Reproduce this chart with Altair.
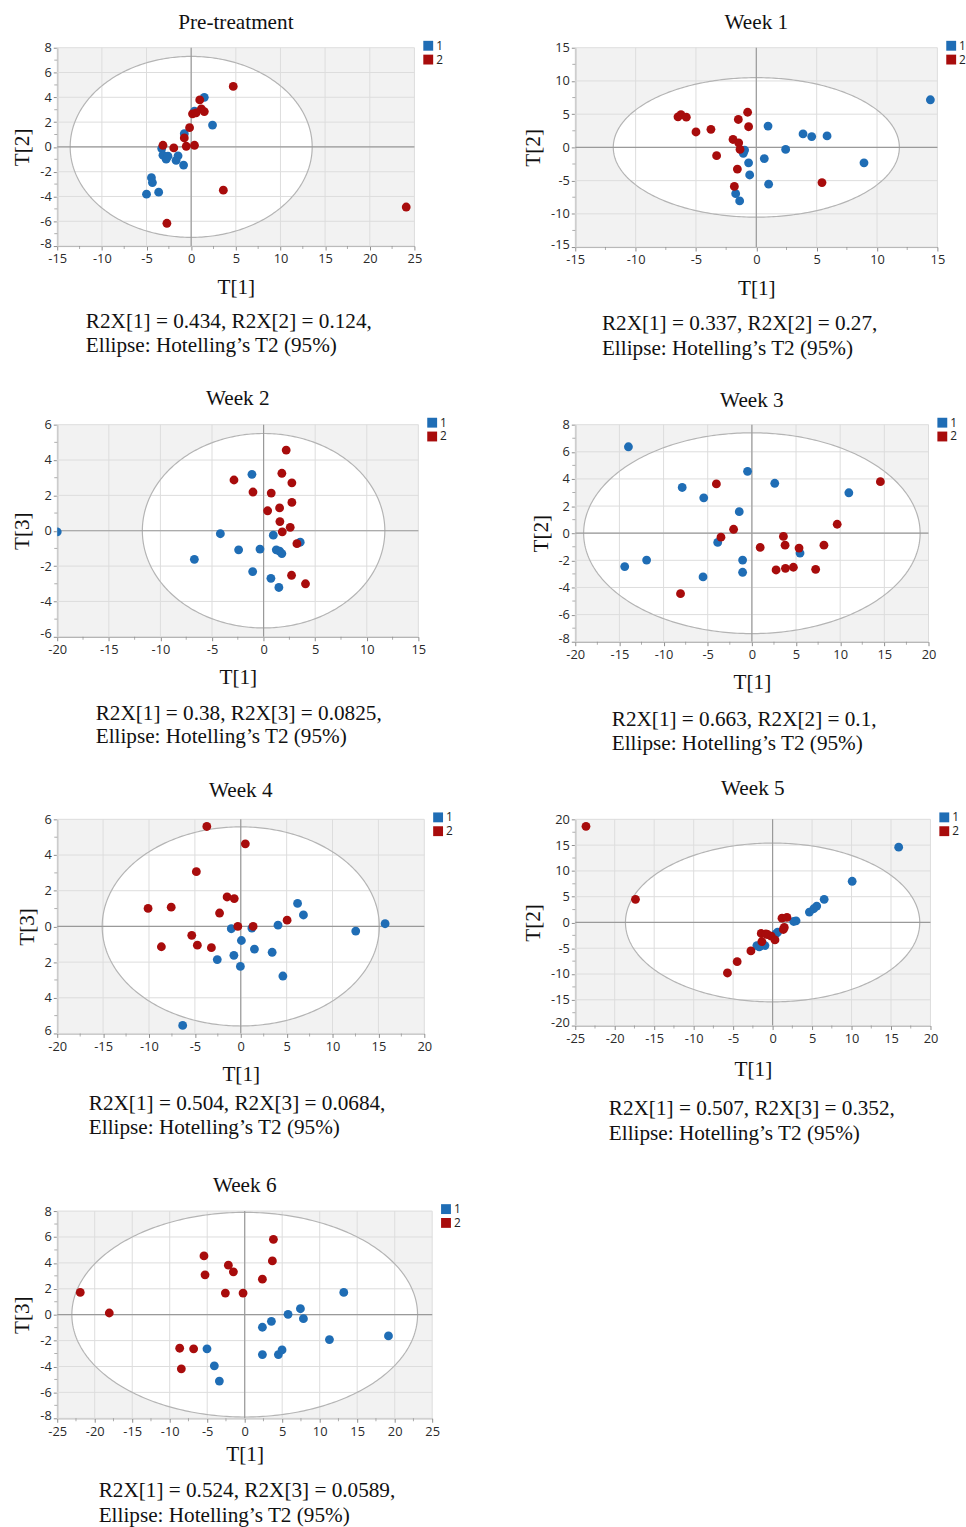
import altair as alt
import numpy as np
import pandas as pd

BLUE = "#1f6db5"
RED = "#a80c0c"
SERIF = "Liberation Serif"
SANS = "Open Sans"

titles = ["Pre-treatment", "Week 1", "Week 2", "Week 3", "Week 4", "Week 5", "Week 6"]
y_titles = ["T[2]", "T[2]", "T[3]", "T[2]", "T[3]", "T[2]", "T[3]"]
captions = [
    "R2X[1] = 0.434, R2X[2] = 0.124,",
    "R2X[1] = 0.337, R2X[2] = 0.27,",
    "R2X[1] = 0.38, R2X[3] = 0.0825,",
    "R2X[1] = 0.663, R2X[2] = 0.1,",
    "R2X[1] = 0.504, R2X[3] = 0.0684,",
    "R2X[1] = 0.507, R2X[3] = 0.352,",
    "R2X[1] = 0.524, R2X[3] = 0.0589,",
]
caption_2 = "Ellipse: Hotelling\u2019s T2 (95%)"
x_domains = [[-15, 25], [-15, 15], [-20, 15], [-20, 20], [-20, 20], [-25, 20], [-25, 25]]
y_domains = [[-8, 8], [-15, 15], [-6, 6], [-8, 8], [-6, 6], [-20, 20], [-8, 8]]
x_steps = [5, 5, 5, 5, 5, 5, 5]
y_steps = [2, 5, 2, 2, 2, 5, 2]
ellipse_a = [13.55, 11.85, 11.75, 19.05, 15.1, 18.64, 23.05]
ellipse_b = [7.3, 10.5, 5.5, 7.4, 5.58, 15.4, 7.9]

# Pre-treatment
pre_x1 = [1.47, 0.37, 2.39, -0.77, -3.3, -3.16, -2.8, -2.6, -1.47, -1.69, -0.85, -4.45, -4.34, -3.64, -5.0]
pre_y1 = [4.0, 2.88, 1.76, 1.07, -0.13, -0.67, -0.99, -0.75, -0.72, -1.09, -1.47, -2.48, -2.88, -3.65, -3.81]
pre_x2 = [4.71, 0.96, 1.14, 1.47, 0.15, 0.55, -0.18, -0.77, -3.16, -1.95, -0.55, 0.37, 3.6, -2.72, 24.08]
pre_y2 = [4.88, 3.79, 3.07, 2.85, 2.67, 2.75, 1.55, 0.72, 0.13, -0.08, 0.05, 0.13, -3.49, -6.16, -4.85]
# Week 1
w1_x1 = [14.42, 0.97, 3.87, 4.59, 5.86, 2.43, -0.97, -1.08, -0.64, 0.66, 8.92, -0.55, 1.02, -1.71, -1.38]
w1_y1 = [7.17, 3.21, 2.03, 1.63, 1.73, -0.3, -0.4, -0.89, -2.32, -1.68, -2.32, -4.15, -5.54, -6.97, -8.06]
w1_x2 = [-6.49, -6.24, -5.8, -5.0, -3.76, -0.72, -1.49, -0.64, -1.93, -1.46, -1.35, -3.29, -1.57, -1.82, 5.44]
w1_y2 = [4.6, 4.94, 4.55, 2.32, 2.72, 5.29, 4.2, 3.11, 1.19, 0.69, -0.3, -1.24, -3.26, -5.88, -5.29]
# Week 2
w2_x1 = [-20.0, -1.13, -4.19, 0.94, -6.71, -2.42, -0.35, 1.23, 1.55, 1.77, 3.55, -1.06, 0.71, 1.48]
w2_y1 = [-0.06, 3.19, -0.17, -0.25, -1.62, -1.08, -1.04, -1.08, -1.15, -1.29, -0.65, -2.31, -2.69, -3.21]
w2_x2 = [2.19, 1.77, 2.74, -2.87, -1.03, 0.74, 2.74, 1.55, 0.39, 1.58, 2.58, 1.81, 3.23, 2.71, 4.06]
w2_y2 = [4.56, 3.25, 2.71, 2.87, 2.19, 2.13, 1.6, 1.29, 1.13, 0.52, 0.19, -0.06, -0.73, -2.52, -3.0]
# Week 3
w3_x1 = [-13.98, -0.49, 2.59, -7.89, -5.45, 10.98, -1.43, -3.87, 5.45, -14.4, -11.92, -1.05, -1.05, -5.53]
w3_y1 = [6.37, 4.56, 3.68, 3.37, 2.61, 2.98, 1.59, -0.68, -1.46, -2.46, -1.98, -1.98, -2.88, -3.22]
w3_x2 = [14.55, -4.02, -2.07, -3.5, 9.66, 3.57, 3.76, 0.94, 5.34, 8.16, 2.74, 3.8, 4.7, 7.22, -8.08]
w3_y2 = [3.8, 3.63, 0.29, -0.29, 0.66, -0.24, -0.88, -1.05, -1.1, -0.88, -2.71, -2.59, -2.51, -2.66, -4.46]
# Week 4
w4_x1 = [-1.03, 1.21, 4.06, 6.19, 6.83, 15.73, 12.53, 0.07, 1.49, 3.42, -0.75, -2.56, -0.04, 4.59, -6.33]
w4_y1 = [-0.13, -0.09, 0.07, 1.29, 0.64, 0.15, -0.26, -0.79, -1.27, -1.45, -1.62, -1.86, -2.24, -2.78, -5.55]
w4_x2 = [-3.7, 0.5, -4.84, -1.49, -0.71, -10.1, -7.58, -2.31, -0.32, 1.35, 5.05, -5.34, -4.73, -8.65, -3.2]
w4_y2 = [5.6, 4.63, 3.07, 1.65, 1.56, 1.01, 1.08, 0.75, 0.0, 0.0, 0.35, -0.5, -1.05, -1.14, -1.19]
# Week 5
w5_x1 = [15.97, 10.08, 6.53, 5.59, 5.21, 4.66, 2.97, 2.67, 0.64, 0.42, -1.48, -0.97, -1.99, -1.69]
w5_y1 = [14.61, 7.99, 4.48, 3.18, 2.66, 2.01, 0.32, 0.19, -1.88, -2.2, -4.48, -4.48, -4.48, -4.74]
w5_x2 = [-23.64, -17.37, -5.72, -4.49, -2.75, -1.36, -1.44, -0.64, -0.17, 0.3, 1.36, 1.48, 1.19, 1.82, -0.85]
w5_y2 = [18.64, 4.48, -9.8, -7.6, -5.52, -3.7, -2.14, -2.34, -2.66, -3.38, -1.36, -0.97, 0.84, 0.97, -2.2]
# Week 6
w6_x1 = [-5.03, -4.05, -3.38, 2.36, 3.56, 5.78, 7.43, 7.83, 13.21, 11.3, 19.17, 2.36, 4.49, 4.98]
w6_y1 = [-2.64, -3.95, -5.13, -0.97, -0.51, 0.03, 0.46, -0.31, 1.72, -1.92, -1.64, -3.08, -3.08, -2.72]
w6_x2 = [-21.93, -18.06, -5.43, -5.29, -2.18, -1.51, -2.58, -0.22, 2.36, 3.83, 3.69, -8.67, -6.81, -8.45]
w6_y2 = [1.72, 0.13, 4.54, 3.08, 3.82, 3.31, 1.67, 1.67, 2.74, 5.82, 4.15, -2.59, -2.64, -4.18]

points = [
    (pre_x1, pre_y1, pre_x2, pre_y2),
    (w1_x1, w1_y1, w1_x2, w1_y2),
    (w2_x1, w2_y1, w2_x2, w2_y2),
    (w3_x1, w3_y1, w3_x2, w3_y2),
    (w4_x1, w4_y1, w4_x2, w4_y2),
    (w5_x1, w5_y1, w5_x2, w5_y2),
    (w6_x1, w6_y1, w6_x2, w6_y2),
]

# layout (pixels)
widths = [362, 367, 366, 358, 372, 360, 380]
heights = [201, 202, 215, 220, 217, 209, 210]
title_offsets = [6, 6, 7, 5, 10, 12, 7]
xtitle_pads = [11, 11, 10, 10, 11, 14, 6]
cap_x = [29, 27, 39, 37, 32, 34, 42]
cap_y = [(278, 302), (280, 305), (293, 317), (299, 324), (289, 313), (294, 319), (284, 309)]
FS = 21.5
AXIS_GREY = "#8c8c8c"


def make_panel(i):
    xs1, ys1, xs2, ys2 = points[i]
    w, h = widths[i], heights[i]
    xd, yd = x_domains[i], y_domains[i]
    xsc = alt.Scale(domain=xd, nice=False, zero=False)
    ysc = alt.Scale(domain=yd, nice=False, zero=False)
    xticks = list(range(xd[0], xd[1] + 1, x_steps[i]))
    yticks = list(range(yd[0], yd[1] + 1, y_steps[i]))
    xminor = [v + x_steps[i] / 2 for v in xticks[:-1]]
    yminor = [v + y_steps[i] / 2 for v in yticks[:-1]]
    hyphen = "datum.value < 0 ? '-' + abs(datum.value) : '' + datum.value"
    ylab = "'' + abs(datum.value)" if i == 4 else hyphen

    a, b = ellipse_a[i], ellipse_b[i]
    t = np.linspace(0, np.pi, 181)
    fill_df = pd.DataFrame({"x": a * np.cos(t), "y": b * np.sin(t), "y2": -b * np.sin(t)})
    t2 = np.linspace(0, 2 * np.pi, 361)
    line_df = pd.DataFrame({"x": a * np.cos(t2), "y": b * np.sin(t2), "o": np.arange(361)})

    xaxis = alt.Axis(values=xticks, title="T[1]", labelExpr=hyphen, labelFlush=False,
                     labelOverlap=False, titlePadding=xtitle_pads[i], labelPadding=3)
    yaxis = alt.Axis(values=yticks, title=y_titles[i], labelExpr=ylab, labelFlush=False,
                     labelOverlap=False, titlePadding=6,
                     labelOffset={"condition": {"test": f"datum.value <= {yd[0]}", "value": -3},
                                  "value": 0})

    def X(f):
        return alt.X(f, scale=xsc, axis=xaxis, title="T[1]")

    def Y(f):
        return alt.Y(f, scale=ysc, axis=yaxis, title=y_titles[i])

    fill = alt.Chart(fill_df).mark_area(color="white", opacity=1).encode(
        x=X("x:Q"), y=Y("y:Q"), y2="y2:Q")
    vgrid = alt.Chart(pd.DataFrame({"x": xticks})).mark_rule(color="#dcdcdc", strokeWidth=1).encode(
        x=X("x:Q"))
    hgrid = alt.Chart(pd.DataFrame({"y": yticks})).mark_rule(color="#dcdcdc", strokeWidth=1).encode(
        y=Y("y:Q"))
    outline = alt.Chart(line_df).mark_line(color="#b4b4b4", strokeWidth=1.2).encode(
        x=X("x:Q"), y=Y("y:Q"), order="o:Q")
    zx = alt.Chart(pd.DataFrame({"x": [0]})).mark_rule(color="#9a9a9a", strokeWidth=1.2).encode(
        x=X("x:Q"))
    zy = alt.Chart(pd.DataFrame({"y": [0]})).mark_rule(color="#9a9a9a", strokeWidth=1.2).encode(
        y=Y("y:Q"))
    xmin_ticks = alt.Chart(pd.DataFrame({"x": xminor})).mark_tick(
        color=AXIS_GREY, size=3, thickness=1, clip=False).encode(x=X("x:Q"), y=alt.value(h + 1.5))
    ymin_ticks = alt.Chart(pd.DataFrame({"y": yminor})).mark_tick(
        color=AXIS_GREY, size=3, thickness=1, clip=False).encode(y=Y("y:Q"), x=alt.value(-1.5))

    pts = pd.DataFrame({
        "x": list(xs1) + list(xs2),
        "y": list(ys1) + list(ys2),
        "g": ["1"] * len(xs1) + ["2"] * len(xs2),
    })
    dots = alt.Chart(pts).mark_circle(size=80, opacity=1, clip=True).encode(
        x=X("x:Q"), y=Y("y:Q"),
        color=alt.Color("g:N", scale=alt.Scale(domain=["1", "2"], range=[BLUE, RED]),
                        legend=alt.Legend(title=None, orient="none", legendX=w + 8, legendY=-8,
                                          symbolType="square", symbolSize=100, symbolStrokeWidth=0,
                                          labelFont=SANS, labelFontSize=12, labelColor="#222",
                                          rowPadding=2, labelOffset=2, padding=0)),
    )
    cap1 = alt.Chart(pd.DataFrame({"c": [captions[i]]})).mark_text(
        align="left", baseline="middle", font=SERIF, fontSize=FS, color="#111").encode(
        x=alt.value(cap_x[i]), y=alt.value(cap_y[i][0]), text="c:N")
    cap2 = alt.Chart(pd.DataFrame({"c": [caption_2]})).mark_text(
        align="left", baseline="middle", font=SERIF, fontSize=FS, color="#111").encode(
        x=alt.value(cap_x[i]), y=alt.value(cap_y[i][1]), text="c:N")

    return alt.layer(fill, vgrid, hgrid, outline, zx, zy, xmin_ticks, ymin_ticks, dots,
                     cap1, cap2).properties(
        width=w, height=h,
        title=alt.TitleParams(titles[i], frame="group", offset=title_offsets[i]),
    )


panels = [make_panel(i) for i in range(7)]

chart = alt.concat(
    *panels, columns=2, spacing={"row": 180, "column": 145}, bounds="flush"
).resolve_scale(color="independent").resolve_legend(color="independent").properties(
    padding={"left": 12, "top": 2, "right": 0, "bottom": 5}
).configure_view(fill="#f2f2f2", strokeWidth=0).configure_axis(
    domainColor=AXIS_GREY, tickColor=AXIS_GREY, labelFont=SANS, labelFontSize=13,
    labelColor="#2a2a2a", titleFont=SERIF, titleFontSize=FS, titleFontWeight="normal",
    titleColor="#111", grid=False, tickSize=4, labelPadding=2,
).configure_title(font=SERIF, fontSize=FS, fontWeight="normal", color="#111")

chart.save("out.html", embed_options={"renderer": "svg", "actions": False})
